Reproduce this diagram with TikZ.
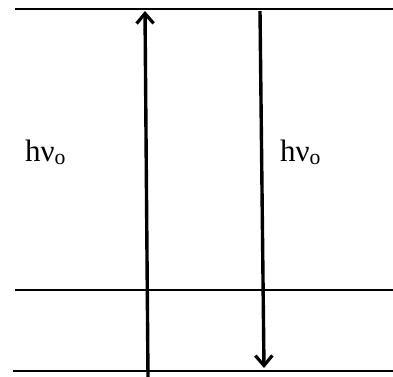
\documentclass[tikz,border=0pt]{standalone}
\usepackage{fontspec}
\setmainfont{Liberation Serif}
\usetikzlibrary{arrows.meta}
\begin{document}
\begin{tikzpicture}[x=1pt,y=-1pt,
  level/.style={line width=2pt},
  trans/.style={line width=3.4pt,-{Straight Barb[length=10pt,width=17pt,line width=3.2pt]}},
  lbl/.style={font=\fontsize{31}{34}\selectfont,anchor=base west,inner sep=0pt}]
\useasboundingbox (0,0) rectangle (393,376);
\coordinate (t1) at (15,9); \coordinate (t2) at (393,9);
\coordinate (m1) at (15,290); \coordinate (m2) at (393,290);
\coordinate (b1) at (13,371); \coordinate (b2) at (393,371);
\draw[level] (t1) -- (t2);
\draw[level] (m1) -- (m2);
\draw[level] (b1) -- (b2);
\coordinate (ua) at (148,378); \coordinate (ub) at (145,11);
\coordinate (da) at (260,11); \coordinate (db) at (264,368);
\draw[trans] (ua) -- (ub);
\draw[trans] (da) -- (db);
\node[lbl] (l1) at (25,161) {hν\textsubscript{o}};
\node[lbl] (l2) at (280,161) {hν\textsubscript{o}};
\end{tikzpicture}
\end{document}
